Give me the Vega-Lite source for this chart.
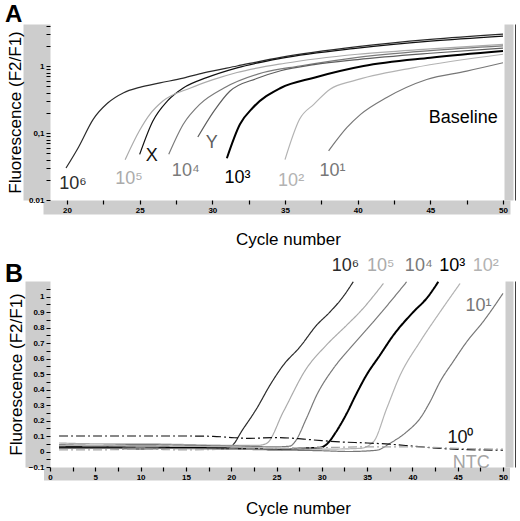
{
  "$schema": "https://vega.github.io/schema/vega-lite/v6.json",
  "background": "white",
  "padding": {"left": 5, "top": 2, "right": 0, "bottom": 0},
  "bounds": "flush",
  "spacing": 81,
  "config": {
    "view": {"stroke": null},
    "font": "Liberation Sans",
    "axis": {"labelFont": "Liberation Sans", "titleFont": "Liberation Sans", "grid": false},
    "title": {"font": "Liberation Sans"}
  },
  "datasets": {
    "curvesA": [
      {"series": "10⁶", "cycle": 19.93, "fluor": 0.03},
      {"series": "10⁶", "cycle": 20.8, "fluor": 0.062},
      {"series": "10⁶", "cycle": 21.8, "fluor": 0.16},
      {"series": "10⁶", "cycle": 22.8, "fluor": 0.28},
      {"series": "10⁶", "cycle": 23.9, "fluor": 0.4},
      {"series": "10⁶", "cycle": 25, "fluor": 0.48},
      {"series": "10⁶", "cycle": 26.4, "fluor": 0.56},
      {"series": "10⁶", "cycle": 28, "fluor": 0.66},
      {"series": "10⁶", "cycle": 29.4, "fluor": 0.79},
      {"series": "10⁶", "cycle": 31.7, "fluor": 1.0},
      {"series": "10⁶", "cycle": 34.7, "fluor": 1.35},
      {"series": "10⁶", "cycle": 40, "fluor": 1.95},
      {"series": "10⁶", "cycle": 45, "fluor": 2.5},
      {"series": "10⁶", "cycle": 50, "fluor": 3.0},
      {"series": "X", "cycle": 25.0, "fluor": 0.048},
      {"series": "X", "cycle": 25.9, "fluor": 0.15},
      {"series": "X", "cycle": 26.9, "fluor": 0.3},
      {"series": "X", "cycle": 28.0, "fluor": 0.47},
      {"series": "X", "cycle": 29.6, "fluor": 0.67},
      {"series": "X", "cycle": 31.7, "fluor": 0.94},
      {"series": "X", "cycle": 34.7, "fluor": 1.3},
      {"series": "X", "cycle": 40, "fluor": 1.85},
      {"series": "X", "cycle": 45, "fluor": 2.35},
      {"series": "X", "cycle": 50, "fluor": 2.8},
      {"series": "10⁵", "cycle": 24.0, "fluor": 0.04},
      {"series": "10⁵", "cycle": 25.0, "fluor": 0.11},
      {"series": "10⁵", "cycle": 25.7, "fluor": 0.19},
      {"series": "10⁵", "cycle": 26.6, "fluor": 0.3},
      {"series": "10⁵", "cycle": 28.5, "fluor": 0.47},
      {"series": "10⁵", "cycle": 30, "fluor": 0.62},
      {"series": "10⁵", "cycle": 31.7, "fluor": 0.8},
      {"series": "10⁵", "cycle": 35, "fluor": 1.1},
      {"series": "10⁵", "cycle": 40, "fluor": 1.5},
      {"series": "10⁵", "cycle": 45, "fluor": 1.8},
      {"series": "10⁵", "cycle": 50, "fluor": 2.1},
      {"series": "10⁴", "cycle": 27.0, "fluor": 0.048},
      {"series": "10⁴", "cycle": 28.0, "fluor": 0.135},
      {"series": "10⁴", "cycle": 29.15, "fluor": 0.27},
      {"series": "10⁴", "cycle": 30.8, "fluor": 0.47},
      {"series": "10⁴", "cycle": 33.5, "fluor": 0.8},
      {"series": "10⁴", "cycle": 36, "fluor": 1.0},
      {"series": "10⁴", "cycle": 40, "fluor": 1.35},
      {"series": "10⁴", "cycle": 45, "fluor": 1.7},
      {"series": "10⁴", "cycle": 50, "fluor": 2.0},
      {"series": "Y", "cycle": 29.0, "fluor": 0.087},
      {"series": "Y", "cycle": 30.1, "fluor": 0.21},
      {"series": "Y", "cycle": 31.2, "fluor": 0.42},
      {"series": "Y", "cycle": 33.05, "fluor": 0.65},
      {"series": "Y", "cycle": 34.7, "fluor": 0.85},
      {"series": "Y", "cycle": 37, "fluor": 1.05},
      {"series": "Y", "cycle": 40, "fluor": 1.25},
      {"series": "Y", "cycle": 45, "fluor": 1.55},
      {"series": "Y", "cycle": 50, "fluor": 1.85},
      {"series": "10³", "cycle": 31.0, "fluor": 0.042},
      {"series": "10³", "cycle": 31.9, "fluor": 0.135},
      {"series": "10³", "cycle": 32.8, "fluor": 0.24},
      {"series": "10³", "cycle": 34.7, "fluor": 0.47},
      {"series": "10³", "cycle": 37.0, "fluor": 0.67},
      {"series": "10³", "cycle": 40.4, "fluor": 1.0},
      {"series": "10³", "cycle": 45, "fluor": 1.33},
      {"series": "10³", "cycle": 50, "fluor": 1.67},
      {"series": "10²", "cycle": 35.0, "fluor": 0.04},
      {"series": "10²", "cycle": 36.0, "fluor": 0.16},
      {"series": "10²", "cycle": 37.0, "fluor": 0.27},
      {"series": "10²", "cycle": 38.1, "fluor": 0.45},
      {"series": "10²", "cycle": 39.7, "fluor": 0.6},
      {"series": "10²", "cycle": 43.8, "fluor": 0.94},
      {"series": "10²", "cycle": 50, "fluor": 1.5},
      {"series": "10¹", "cycle": 38.0, "fluor": 0.054},
      {"series": "10¹", "cycle": 39.25, "fluor": 0.12},
      {"series": "10¹", "cycle": 40.2, "fluor": 0.19},
      {"series": "10¹", "cycle": 42.0, "fluor": 0.34},
      {"series": "10¹", "cycle": 44.75, "fluor": 0.63},
      {"series": "10¹", "cycle": 47.5, "fluor": 0.84},
      {"series": "10¹", "cycle": 50, "fluor": 1.12}
    ],
    "labelsA": [
      {"series": "10⁶", "cycle": 20.41, "fluor": 0.0173},
      {"series": "10⁵", "cycle": 24.27, "fluor": 0.0206},
      {"series": "X", "cycle": 25.83, "fluor": 0.0454},
      {"series": "10⁴", "cycle": 28.17, "fluor": 0.0271},
      {"series": "Y", "cycle": 29.96, "fluor": 0.071},
      {"series": "10³", "cycle": 31.73, "fluor": 0.0213},
      {"series": "10²", "cycle": 35.42, "fluor": 0.0192},
      {"series": "10¹", "cycle": 38.27, "fluor": 0.0271},
      {"series": "Baseline", "cycle": 47.27, "fluor": 0.169}
    ],
    "curvesB": [
      {"series": "10⁶", "cycle": 1, "fluor": 0.035},
      {"series": "10⁶", "cycle": 5, "fluor": 0.03},
      {"series": "10⁶", "cycle": 10, "fluor": 0.035},
      {"series": "10⁶", "cycle": 15, "fluor": 0.03},
      {"series": "10⁶", "cycle": 19, "fluor": 0.025},
      {"series": "10⁶", "cycle": 19.87, "fluor": 0.03},
      {"series": "10⁶", "cycle": 21.34, "fluor": 0.148},
      {"series": "10⁶", "cycle": 22.81, "fluor": 0.277},
      {"series": "10⁶", "cycle": 24.28, "fluor": 0.428},
      {"series": "10⁶", "cycle": 25.75, "fluor": 0.557},
      {"series": "10⁶", "cycle": 27.59, "fluor": 0.675},
      {"series": "10⁶", "cycle": 29.43, "fluor": 0.815},
      {"series": "10⁶", "cycle": 30.9, "fluor": 0.9},
      {"series": "10⁶", "cycle": 32.37, "fluor": 1.0},
      {"series": "10⁶", "cycle": 33.47, "fluor": 1.095},
      {"series": "10⁵", "cycle": 1, "fluor": 0.055},
      {"series": "10⁵", "cycle": 5, "fluor": 0.05},
      {"series": "10⁵", "cycle": 10, "fluor": 0.05},
      {"series": "10⁵", "cycle": 15, "fluor": 0.045},
      {"series": "10⁵", "cycle": 20, "fluor": 0.04},
      {"series": "10⁵", "cycle": 23, "fluor": 0.04},
      {"series": "10⁵", "cycle": 23.9, "fluor": 0.052},
      {"series": "10⁵", "cycle": 25.75, "fluor": 0.256},
      {"series": "10⁵", "cycle": 28.3, "fluor": 0.535},
      {"series": "10⁵", "cycle": 30.5, "fluor": 0.686},
      {"series": "10⁵", "cycle": 32.75, "fluor": 0.815},
      {"series": "10⁵", "cycle": 34.2, "fluor": 0.9},
      {"series": "10⁵", "cycle": 36.8, "fluor": 1.084},
      {"series": "10⁴", "cycle": 1, "fluor": 0.045},
      {"series": "10⁴", "cycle": 5, "fluor": 0.04},
      {"series": "10⁴", "cycle": 10, "fluor": 0.045},
      {"series": "10⁴", "cycle": 15, "fluor": 0.04},
      {"series": "10⁴", "cycle": 20, "fluor": 0.035},
      {"series": "10⁴", "cycle": 25, "fluor": 0.03},
      {"series": "10⁴", "cycle": 26.5, "fluor": 0.035},
      {"series": "10⁴", "cycle": 27.04, "fluor": 0.063},
      {"series": "10⁴", "cycle": 28.3, "fluor": 0.213},
      {"series": "10⁴", "cycle": 29.43, "fluor": 0.363},
      {"series": "10⁴", "cycle": 31.27, "fluor": 0.535},
      {"series": "10⁴", "cycle": 33.1, "fluor": 0.665},
      {"series": "10⁴", "cycle": 35.7, "fluor": 0.837},
      {"series": "10⁴", "cycle": 39.37, "fluor": 1.095},
      {"series": "10³", "cycle": 1, "fluor": 0.025},
      {"series": "10³", "cycle": 5, "fluor": 0.025},
      {"series": "10³", "cycle": 10, "fluor": 0.02},
      {"series": "10³", "cycle": 15, "fluor": 0.025},
      {"series": "10³", "cycle": 20, "fluor": 0.02},
      {"series": "10³", "cycle": 25, "fluor": 0.015},
      {"series": "10³", "cycle": 28, "fluor": 0.02},
      {"series": "10³", "cycle": 29.8, "fluor": 0.025},
      {"series": "10³", "cycle": 30.6, "fluor": 0.05},
      {"series": "10³", "cycle": 31.5, "fluor": 0.12},
      {"series": "10³", "cycle": 32.7, "fluor": 0.24},
      {"series": "10³", "cycle": 33.8, "fluor": 0.37},
      {"series": "10³", "cycle": 34.9, "fluor": 0.49},
      {"series": "10³", "cycle": 36.4, "fluor": 0.62},
      {"series": "10³", "cycle": 37.9, "fluor": 0.75},
      {"series": "10³", "cycle": 40.1, "fluor": 0.9},
      {"series": "10³", "cycle": 41.6, "fluor": 0.99},
      {"series": "10³", "cycle": 42.86, "fluor": 1.095},
      {"series": "10²", "cycle": 1, "fluor": 0.04},
      {"series": "10²", "cycle": 10, "fluor": 0.035},
      {"series": "10²", "cycle": 20, "fluor": 0.03},
      {"series": "10²", "cycle": 25, "fluor": 0.02},
      {"series": "10²", "cycle": 30, "fluor": 0.015},
      {"series": "10²", "cycle": 34.2, "fluor": 0.02},
      {"series": "10²", "cycle": 35.7, "fluor": 0.063},
      {"series": "10²", "cycle": 37.16, "fluor": 0.277},
      {"series": "10²", "cycle": 38.63, "fluor": 0.49},
      {"series": "10²", "cycle": 40.84, "fluor": 0.708},
      {"series": "10²", "cycle": 43.05, "fluor": 0.9},
      {"series": "10²", "cycle": 45.26, "fluor": 1.084},
      {"series": "10¹", "cycle": 1, "fluor": 0.02},
      {"series": "10¹", "cycle": 10, "fluor": 0.02},
      {"series": "10¹", "cycle": 20, "fluor": 0.015},
      {"series": "10¹", "cycle": 25, "fluor": 0.01},
      {"series": "10¹", "cycle": 30, "fluor": 0.005},
      {"series": "10¹", "cycle": 33, "fluor": 0.0},
      {"series": "10¹", "cycle": 36.05, "fluor": 0.008},
      {"series": "10¹", "cycle": 37.5, "fluor": 0.052},
      {"series": "10¹", "cycle": 39.37, "fluor": 0.127},
      {"series": "10¹", "cycle": 40.84, "fluor": 0.213},
      {"series": "10¹", "cycle": 41.94, "fluor": 0.32},
      {"series": "10¹", "cycle": 43.05, "fluor": 0.45},
      {"series": "10¹", "cycle": 44.5, "fluor": 0.58},
      {"series": "10¹", "cycle": 46.0, "fluor": 0.708},
      {"series": "10¹", "cycle": 47.8, "fluor": 0.837},
      {"series": "10¹", "cycle": 50, "fluor": 1.02},
      {"series": "10⁰", "cycle": 1, "fluor": 0.1},
      {"series": "10⁰", "cycle": 5, "fluor": 0.1},
      {"series": "10⁰", "cycle": 10, "fluor": 0.1},
      {"series": "10⁰", "cycle": 15, "fluor": 0.1},
      {"series": "10⁰", "cycle": 18, "fluor": 0.098},
      {"series": "10⁰", "cycle": 20, "fluor": 0.09},
      {"series": "10⁰", "cycle": 22, "fluor": 0.085},
      {"series": "10⁰", "cycle": 25, "fluor": 0.09},
      {"series": "10⁰", "cycle": 28, "fluor": 0.08},
      {"series": "10⁰", "cycle": 30, "fluor": 0.07},
      {"series": "10⁰", "cycle": 32, "fluor": 0.062},
      {"series": "10⁰", "cycle": 35, "fluor": 0.055},
      {"series": "10⁰", "cycle": 37.5, "fluor": 0.047},
      {"series": "10⁰", "cycle": 40, "fluor": 0.035},
      {"series": "10⁰", "cycle": 43, "fluor": 0.02},
      {"series": "10⁰", "cycle": 50, "fluor": 0.008},
      {"series": "NTC", "cycle": 1, "fluor": 0.01},
      {"series": "NTC", "cycle": 5, "fluor": 0.01},
      {"series": "NTC", "cycle": 10, "fluor": 0.015},
      {"series": "NTC", "cycle": 15, "fluor": 0.01},
      {"series": "NTC", "cycle": 20, "fluor": 0.015},
      {"series": "NTC", "cycle": 25, "fluor": 0.02},
      {"series": "NTC", "cycle": 30, "fluor": 0.025},
      {"series": "NTC", "cycle": 35, "fluor": 0.03},
      {"series": "NTC", "cycle": 40, "fluor": 0.03},
      {"series": "NTC", "cycle": 45, "fluor": 0.02},
      {"series": "NTC", "cycle": 50, "fluor": 0.015}
    ],
    "labelsB": [
      {"series": "10⁶", "cycle": 32.6, "fluor": 1.2},
      {"series": "10⁵", "cycle": 36.5, "fluor": 1.2},
      {"series": "10⁴", "cycle": 40.7, "fluor": 1.2},
      {"series": "10³", "cycle": 44.4, "fluor": 1.2},
      {"series": "10²", "cycle": 48.1, "fluor": 1.2},
      {"series": "10¹", "cycle": 47.3, "fluor": 0.94},
      {"series": "10⁰", "cycle": 45.3, "fluor": 0.084},
      {"series": "NTC", "cycle": 46.5, "fluor": -0.071}
    ]
  },
  "vconcat": [
    {
      "width": 453,
      "height": 176,
      "title": {"text": "A", "anchor": "start", "frame": "group", "fontSize": 24, "fontWeight": "bold", "baseline": "alphabetic", "offset": -24, "dx": -45, "color": "black"},
      "resolve": {"axis": {"x": "independent", "y": "independent"}},
      "layer": [
        {
          "mark": {"type": "rule", "color": "#bdbdbd", "strokeWidth": 1},
          "encoding": {
            "y": {"datum": 0.12, "type": "quantitative",
              "scale": {"type": "log", "domain": [0.01, 4.24], "nice": false},
              "axis": {"orient": "left", "offset": 13.5, "domainWidth": 27, "domainColor": "#cdcdcd", "ticks": false, "labels": false, "title": null}}
          }
        },
        {
          "data": {"name": "curvesA"},
          "mark": {"type": "line", "interpolate": "monotone"},
          "encoding": {
            "x": {"field": "cycle", "type": "quantitative",
              "scale": {"domain": [18.83, 50], "nice": false, "zero": false},
              "axis": {"orient": "bottom", "offset": 7, "domainWidth": 14, "domainColor": "#cdcdcd", "domainCap": "square", "ticks": false, "labels": false, "title": null}},
            "y": {"field": "fluor", "type": "quantitative",
              "scale": {"type": "log", "domain": [0.01, 4.24], "nice": false},
              "axis": {"orient": "right", "offset": 5.5, "domainWidth": 9, "domainColor": "#cdcdcd", "ticks": false, "labels": false, "title": null}},
            "color": {"field": "series", "type": "nominal", "legend": null,
              "scale": {"domain": ["10⁶", "10⁵", "X", "10⁴", "Y", "10³", "10²", "10¹", "10⁰", "NTC", "Baseline"],
                "range": ["#2b2b2b", "#ababab", "#111111", "#7a7a7a", "#5e5e5e", "#000000", "#b3b3b3", "#777777", "#111111", "#a5a5a5", "#000000"]}},
            "strokeWidth": {"condition": {"test": "datum.series === '10³'", "value": 2}, "value": 1.2}
          }
        },
        {
          "data": {"name": "labelsA"},
          "transform": [{"filter": "datum.series !== 'Baseline'"}],
          "mark": {"type": "text", "fontSize": 18, "align": "center", "baseline": "middle"},
          "encoding": {
            "x": {"field": "cycle", "type": "quantitative",
              "scale": {"domain": [18.83, 50], "nice": false, "zero": false},
              "axis": {"orient": "bottom", "values": [20, 22.5, 25, 27.5, 30, 32.5, 35, 37.5, 40, 42.5, 45, 47.5, 50],
                "labelExpr": "datum.value % 5 === 0 ? '' + datum.value : ''",
                "domain": false, "tickSize": 4, "tickColor": "black", "tickWidth": 1.2,
                "labelFontSize": 8, "labelFontWeight": "bold", "labelColor": "black", "labelPadding": 2,
                "labelFlush": false, "labelOverlap": false,
                "title": "Cycle number", "titleFontSize": 17, "titleFontWeight": "normal", "titleColor": "black",
                "titleX": 238, "titleY": 44, "titleBaseline": "alphabetic"}},
            "y": {"field": "fluor", "type": "quantitative",
              "scale": {"type": "log", "domain": [0.01, 4.24], "nice": false},
              "axis": {"orient": "left", "values": [0.01, 0.02, 0.03, 0.04, 0.05, 0.06, 0.07, 0.08, 0.09, 0.1, 0.2, 0.3, 0.4, 0.5, 0.6, 0.7, 0.8, 0.9, 1, 2, 3, 4],
                "labelExpr": "datum.value === 1 ? '1' : datum.value === 0.1 ? '0,1' : datum.value === 0.01 ? '0.01' : ''",
                "domain": false, "tickSize": 4, "tickColor": "black", "tickWidth": 1,
                "labelFontSize": 8, "labelFontWeight": "bold", "labelColor": "black", "labelPadding": 2,
                "labelFlush": false, "labelOverlap": false,
                "title": "Fluorescence (F2/F1)", "titleFontSize": 17, "titleFontWeight": "normal", "titleColor": "black",
                "titleX": -26, "titleY": 88, "titleBaseline": "bottom"}},
            "text": {"field": "series"},
            "color": {"field": "series", "type": "nominal", "legend": null,
              "scale": {"domain": ["10⁶", "10⁵", "X", "10⁴", "Y", "10³", "10²", "10¹", "10⁰", "NTC", "Baseline"],
                "range": ["#2b2b2b", "#ababab", "#111111", "#7a7a7a", "#5e5e5e", "#000000", "#b3b3b3", "#777777", "#111111", "#a5a5a5", "#000000"]}}
          }
        },
        {
          "data": {"name": "labelsA"},
          "transform": [{"filter": "datum.series === 'Baseline'"}],
          "mark": {"type": "text", "fontSize": 18, "align": "center", "baseline": "middle", "color": "black"},
          "encoding": {
            "x": {"field": "cycle", "type": "quantitative",
              "scale": {"domain": [18.83, 50], "nice": false, "zero": false}, "axis": null},
            "y": {"field": "fluor", "type": "quantitative",
              "scale": {"type": "log", "domain": [0.01, 4.24], "nice": false},
              "axis": {"orient": "right", "offset": 13, "domainWidth": 2.5, "domainColor": "#000000", "ticks": false, "labels": false, "title": null}},
            "text": {"field": "series"}
          }
        }
      ]
    },
    {
      "width": 453,
      "height": 186,
      "title": {"text": "B", "anchor": "start", "frame": "group", "fontSize": 25, "fontWeight": "bold", "baseline": "alphabetic", "offset": -50, "dx": -45, "color": "black"},
      "resolve": {"axis": {"x": "independent", "y": "independent"}},
      "layer": [
        {
          "data": {"name": "labelsB"},
          "transform": [{"filter": "datum.fluor > 1"}],
          "mark": {"type": "text", "fontSize": 18, "align": "center", "baseline": "middle"},
          "encoding": {
            "x": {"field": "cycle", "type": "quantitative",
              "scale": {"domain": [0, 50], "nice": false, "zero": false}, "axis": null},
            "y": {"field": "fluor", "type": "quantitative",
              "scale": {"domain": [-0.1, 1.1], "nice": false, "zero": false},
              "axis": {"orient": "left", "offset": 12.5, "domainWidth": 25, "domainColor": "#cdcdcd", "ticks": false, "labels": false, "title": null}},
            "text": {"field": "series"},
            "color": {"field": "series", "type": "nominal", "legend": null,
              "scale": {"domain": ["10⁶", "10⁵", "X", "10⁴", "Y", "10³", "10²", "10¹", "10⁰", "NTC", "Baseline"],
                "range": ["#2b2b2b", "#ababab", "#111111", "#666666", "#5e5e5e", "#000000", "#b3b3b3", "#777777", "#111111", "#a5a5a5", "#000000"]}}
          }
        },
        {
          "data": {"name": "curvesB"},
          "mark": {"type": "line", "interpolate": "monotone"},
          "encoding": {
            "x": {"field": "cycle", "type": "quantitative",
              "scale": {"domain": [0, 50], "nice": false, "zero": false},
              "axis": {"orient": "bottom", "offset": 6.5, "domainWidth": 13, "domainColor": "#cdcdcd", "domainCap": "square", "ticks": false, "labels": false, "title": null}},
            "y": {"field": "fluor", "type": "quantitative",
              "scale": {"domain": [-0.1, 1.1], "nice": false, "zero": false},
              "axis": {"orient": "right", "offset": 6, "domainWidth": 8, "domainColor": "#cdcdcd", "ticks": false, "labels": false, "title": null}},
            "color": {"field": "series", "type": "nominal", "legend": null,
              "scale": {"domain": ["10⁶", "10⁵", "X", "10⁴", "Y", "10³", "10²", "10¹", "10⁰", "NTC", "Baseline"],
                "range": ["#2b2b2b", "#ababab", "#111111", "#666666", "#5e5e5e", "#000000", "#b3b3b3", "#777777", "#111111", "#a5a5a5", "#000000"]}},
            "strokeWidth": {"condition": {"test": "datum.series === '10³'", "value": 2}, "value": 1.2},
            "strokeDash": {"condition": {"test": "datum.series === '10⁰' || datum.series === 'NTC'", "value": [9, 3, 2, 3]}, "value": [1, 0]}
          }
        },
        {
          "data": {"name": "labelsB"},
          "transform": [{"filter": "datum.fluor < 1 && datum.series !== 'NTC'"}],
          "mark": {"type": "text", "fontSize": 18, "align": "center", "baseline": "middle"},
          "encoding": {
            "x": {"field": "cycle", "type": "quantitative",
              "scale": {"domain": [0, 50], "nice": false, "zero": false},
              "axis": {"orient": "bottom", "values": [0, 2.5, 5, 7.5, 10, 12.5, 15, 17.5, 20, 22.5, 25, 27.5, 30, 32.5, 35, 37.5, 40, 42.5, 45, 47.5, 50],
                "labelExpr": "datum.value % 5 === 0 ? '' + datum.value : ''",
                "domain": false, "tickSize": 4, "tickColor": "black", "tickWidth": 1.2,
                "labelFontSize": 8, "labelFontWeight": "bold", "labelColor": "black", "labelPadding": 2,
                "labelFlush": false, "labelOverlap": false,
                "title": "Cycle number", "titleFontSize": 17, "titleFontWeight": "normal", "titleColor": "black",
                "titleX": 248, "titleY": 46, "titleBaseline": "alphabetic"}},
            "y": {"field": "fluor", "type": "quantitative",
              "scale": {"domain": [-0.1, 1.1], "nice": false, "zero": false},
              "axis": {"orient": "left", "values": [-0.1, -0.05, 0, 0.05, 0.1, 0.15, 0.2, 0.25, 0.3, 0.35, 0.4, 0.45, 0.5, 0.55, 0.6, 0.65, 0.7, 0.75, 0.8, 0.85, 0.9, 0.95, 1, 1.05],
                "labelExpr": "round(datum.value * 20) % 2 === 0 ? format(datum.value, '.1~f') : ''",
                "domain": false, "tickSize": 4, "tickColor": "black", "tickWidth": 1,
                "labelFontSize": 8, "labelFontWeight": "bold", "labelColor": "black", "labelPadding": 2,
                "labelFlush": false, "labelOverlap": false,
                "title": "Fluorescence (F2/F1)", "titleFontSize": 17, "titleFontWeight": "normal", "titleColor": "black",
                "titleX": -24.5, "titleY": 93, "titleBaseline": "bottom"}},
            "text": {"field": "series"},
            "color": {"field": "series", "type": "nominal", "legend": null,
              "scale": {"domain": ["10⁶", "10⁵", "X", "10⁴", "Y", "10³", "10²", "10¹", "10⁰", "NTC", "Baseline"],
                "range": ["#2b2b2b", "#ababab", "#111111", "#666666", "#5e5e5e", "#000000", "#b3b3b3", "#777777", "#111111", "#a5a5a5", "#000000"]}}
          }
        },
        {
          "data": {"name": "labelsB"},
          "transform": [{"filter": "datum.series === 'NTC'"}],
          "mark": {"type": "text", "fontSize": 18, "align": "center", "baseline": "middle", "color": "#a5a5a5"},
          "encoding": {
            "x": {"field": "cycle", "type": "quantitative",
              "scale": {"domain": [0, 50], "nice": false, "zero": false}, "axis": null},
            "y": {"field": "fluor", "type": "quantitative",
              "scale": {"domain": [-0.1, 1.1], "nice": false, "zero": false},
              "axis": {"orient": "right", "offset": 13, "domainWidth": 2.5, "domainColor": "#000000", "ticks": false, "labels": false, "title": null}},
            "text": {"field": "series"}
          }
        }
      ]
    }
  ]
}
